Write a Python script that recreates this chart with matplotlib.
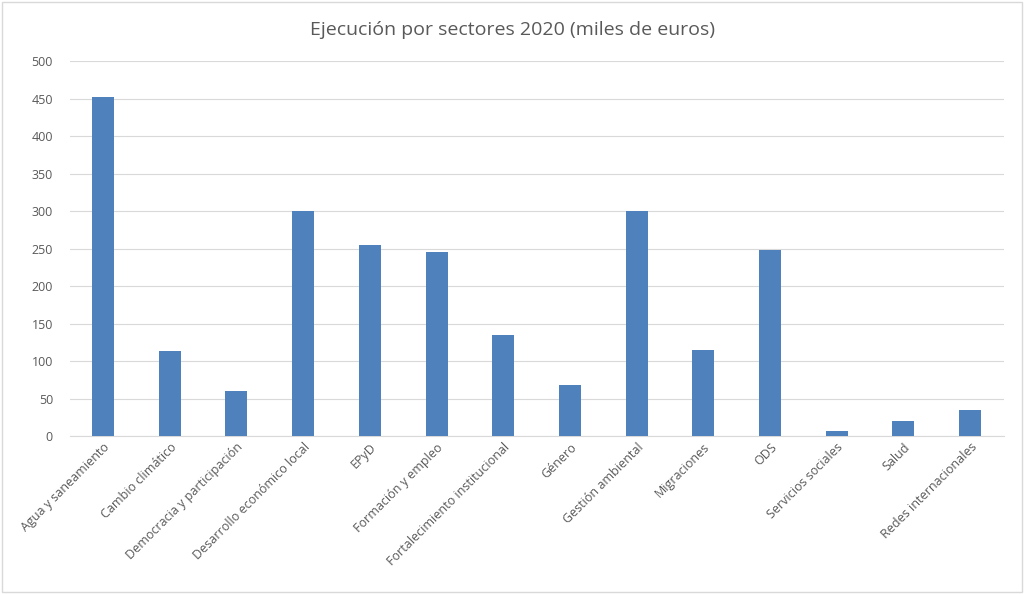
import matplotlib
matplotlib.use("Agg")
import matplotlib.pyplot as plt

categories = ["Agua y saneamiento", "Cambio climático", "Democracia y participación",
              "Desarrollo económico local", "EPyD", "Formación y empleo",
              "Fortalecimiento institucional", "Género", "Gestión ambiental",
              "Migraciones", "ODS", "Servicios sociales", "Salud", "Redes internacionales"]
values = [452, 114, 60, 300, 255, 245, 135, 68, 300, 115, 248, 7, 20, 35]
yticks = [0, 50, 100, 150, 200, 250, 300, 350, 400, 450, 500]

plt.rcParams['font.family'] = ['Open Sans', 'DejaVu Sans']
fig = plt.figure(figsize=(10.24, 5.94), dpi=100)
ax = fig.add_axes([0.068, 0.266, 0.912, 0.631])
x = list(range(len(categories)))
ax.bar(x, values, width=0.33, color='#4f81bd', zorder=3)
ax.set_xlim(-0.5, len(categories) - 0.5)
ax.set_ylim(0, 500)
ax.set_yticks(yticks)
ax.yaxis.grid(True, color='#d9d9d9', linewidth=0.8, zorder=0)
for s in ['top', 'right', 'left']:
    ax.spines[s].set_visible(False)
ax.spines['bottom'].set_color('#d9d9d9')
ax.tick_params(axis='both', length=0, labelsize=9, colors='#595959')
ax.tick_params(axis='y', pad=12)
ax.set_xticks(x)
ax.set_xticklabels(categories, rotation=45, ha='right', rotation_mode='anchor')
fig.text(0.5, 0.95, "Ejecución por sectores 2020 (miles de euros)", ha='center', va='center',
         fontsize=14, color='#595959')
fig.patches.append(plt.Rectangle((0.002, 0.003), 0.996, 0.994, transform=fig.transFigure,
                                 fill=False, edgecolor='#d9d9d9', linewidth=1))
fig.savefig("out.png", dpi=100)
